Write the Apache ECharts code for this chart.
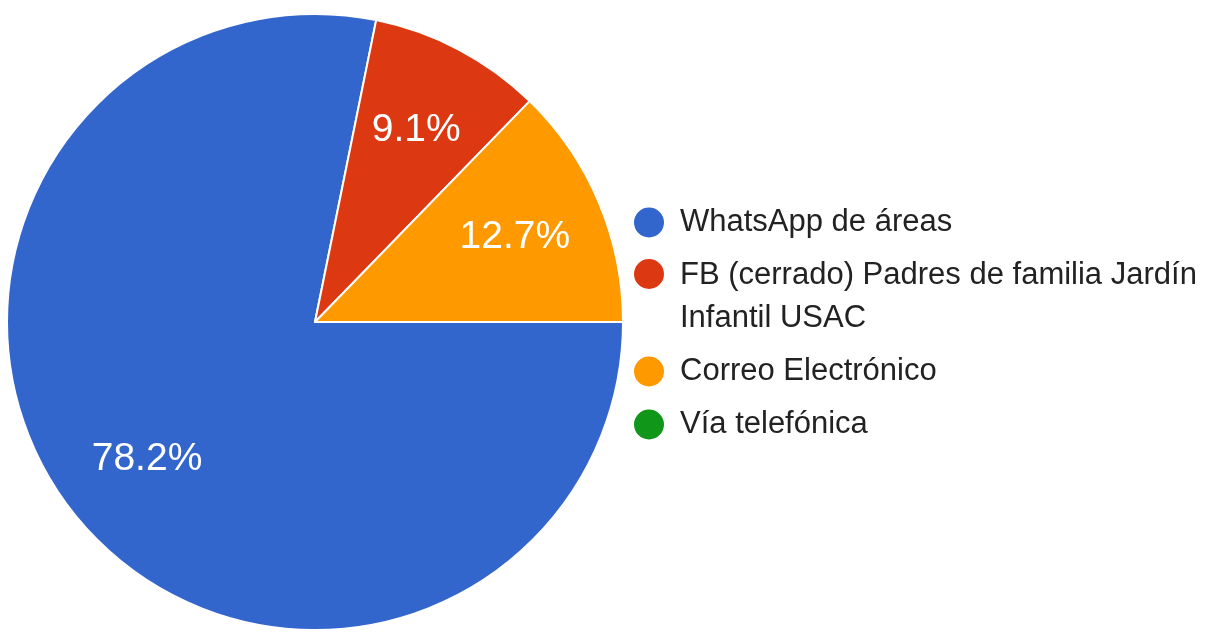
<!DOCTYPE html>
<html>
<head>
<meta charset="utf-8">
<script src="https://cdn.jsdelivr.net/npm/echarts@6/dist/echarts.min.js"></script>
<style>
html,body{margin:0;padding:0;background:#fff;}
#chart{width:1223px;height:634px;}
</style>
</head>
<body>
<div id="chart"></div>
<script>
const categories = ['WhatsApp de áreas', 'FB (cerrado) Padres de familia Jardín Infantil USAC', 'Correo Electrónico', 'Vía telefónica'];
const values = [43, 5, 7, 0];
const colors = ['#3366cc', '#dc3912', '#ff9900', '#109618'];

const total = values.reduce((a, b) => a + b, 0);
const pieData = categories.map((c, i) => ({ name: c, value: values[i], itemStyle: { color: colors[i] } }));
const fmt = p => p.value > 0 ? (p.value / total * 100).toFixed(1) + '%' : '';

const chart = echarts.init(document.getElementById('chart'));
chart.setOption({
  backgroundColor: '#ffffff',
  animation: false,
  legend: [
    {
      orient: 'vertical',
      left: 623,
      top: 201,
      padding: 0,
      itemGap: 10,
      itemWidth: 52,
      itemHeight: 32,
      icon: 'circle',
      selectedMode: false,
      textStyle: { fontFamily: 'Liberation Sans, Arial, sans-serif', fontSize: 31, lineHeight: 43, color: '#222222', width: 570, overflow: 'break' },
      data: categories.map((c, i) => i === 1 ? { name: c, icon: 'none', itemStyle: { opacity: 0 } } : { name: c })
    },
    {
      orient: 'vertical',
      left: 632,
      top: 257,
      padding: 0,
      itemWidth: 52,
      itemHeight: 32,
      icon: 'circle',
      selectedMode: false,
      formatter: () => '',
      textStyle: { fontSize: 1, lineHeight: 1 },
      data: [categories[1]]
    }
  ],
  series: [
    {
      type: 'pie',
      center: [315, 322],
      radius: 308,
      startAngle: 0,
      clockwise: true,
      avoidLabelOverlap: false,
      itemStyle: { borderColor: '#ffffff', borderWidth: 2 },
      label: { show: false },
      labelLine: { show: false },
      emphasis: { disabled: true },
      data: pieData
    },
    {
      type: 'pie',
      center: [315, 322],
      radius: [120, 308],
      startAngle: 0,
      clockwise: true,
      silent: true,
      avoidLabelOverlap: false,
      legendHoverLink: false,
      itemStyle: { color: 'rgba(0,0,0,0)' },
      label: { show: true, position: 'inside', formatter: fmt, color: '#ffffff', fontSize: 39, fontFamily: 'Liberation Sans, Arial, sans-serif' },
      labelLine: { show: false },
      emphasis: { disabled: true },
      data: categories.map((c, i) => ({ name: c, value: values[i] }))
    }
  ]
});
</script>
</body>
</html>
